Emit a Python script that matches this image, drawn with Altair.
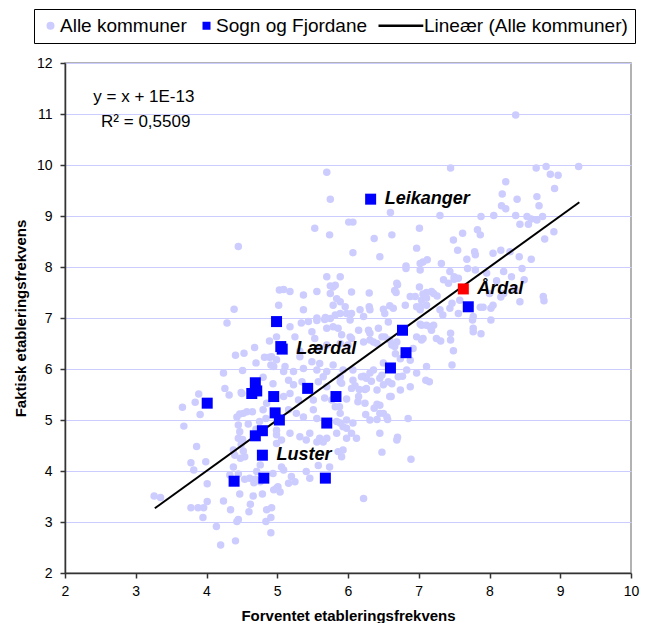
import altair as alt
import pandas as pd

SERIES = ["Alle kommuner", "Sogn og Fjordane", "Lineær (Alle kommuner)"]
COLORS = ["#ccccff", "#0000ff", "#000000"]
SHAPES = ["circle", "square", "M-9,-0.3H2.2V0.3H-9Z"]

# (forventet, faktisk) for all municipalities
alle_kommuner = [
    (4.45, 8.40), (4.39, 7.17), (4.29, 6.90), (4.68, 6.42), (4.41, 6.27), (4.53, 6.31), (4.89, 6.55),
    (4.99, 6.63), (4.82, 6.23), (4.89, 6.23), (4.70, 6.12), (4.91, 6.08), (4.95, 6.05), (4.51, 5.97),
    (4.24, 5.92), (4.80, 5.84), (4.26, 5.62), (4.32, 5.49), (4.49, 5.54), (3.89, 5.51), (4.94, 5.71),
    (5.02, 7.25), (5.03, 7.55),
    (3.84, 5.35), (3.66, 5.25), (3.91, 5.11), (3.68, 4.88), (3.86, 4.48), (3.78, 4.16), (3.82, 4.02),
    (3.99, 4.18), (4.01, 3.75), (3.26, 3.51), (3.35, 3.48), (4.01, 3.40), (3.78, 3.28), (3.88, 3.28),
    (3.96, 3.28), (3.95, 3.09), (4.14, 2.91), (4.20, 2.55), (4.41, 2.63), (4.24, 3.41), (4.34, 3.24),
    (4.43, 3.01), (4.45, 3.05), (4.47, 3.55), (4.60, 3.20), (4.62, 3.35), (4.66, 3.51), (4.79, 3.55),
    (4.84, 3.01), (4.91, 3.09), (4.85, 3.24), (4.92, 3.28), (4.91, 2.79), (4.95, 3.63), (4.99, 3.66),
    (4.33, 3.92), (4.45, 3.94), (4.54, 3.84), (4.61, 3.86), (4.69, 3.84), (4.38, 4.08), (4.40, 4.31),
    (4.54, 4.28), (4.48, 4.25), (4.38, 4.41), (4.52, 4.39), (4.49, 4.52), (4.45, 4.64), (4.51, 4.62),
    (4.47, 4.77), (4.45, 4.90), (4.59, 4.92), (4.75, 4.97), (4.70, 4.82), (4.43, 5.06), (4.47, 5.12),
    (4.52, 5.13), (4.57, 5.16), (4.65, 5.16), (4.80, 5.20), (4.85, 5.33), (4.84, 5.03), (4.76, 4.12),
    (4.71, 3.99), (4.67, 3.77), (4.50, 5.52), (4.99, 4.71), (4.99, 4.54), (4.76, 3.79),
    (5.56, 6.95), (5.67, 6.97), (5.79, 7.25), (5.89, 7.32), (5.32, 6.35), (5.70, 5.95), (5.79, 6.08),
    (5.93, 5.98),
    (5.70, 9.86), (5.75, 9.33), (6.60, 9.07), (5.53, 8.76), (5.74, 8.63), (6.01, 8.88), (6.07, 8.88),
    (6.37, 8.56), (6.62, 8.63), (7.01, 8.76), (6.97, 8.37), (6.07, 8.28), (6.45, 8.20), (6.82, 8.02),
    (6.82, 7.97), (7.02, 8.07), (7.06, 8.10), (7.12, 8.14), (7.02, 7.94), (5.70, 7.81), (5.89, 7.81),
    (5.75, 7.63), (5.82, 7.64), (5.09, 7.56), (6.05, 7.51), (6.30, 7.49), (6.70, 7.65), (6.68, 7.50),
    (7.01, 7.61), (7.11, 7.50), (6.88, 7.42), (6.95, 7.42), (5.84, 7.38),
    (5.82, 7.06), (5.56, 7.00), (5.68, 7.01), (6.05, 7.09), (6.17, 7.16),
    (8.37, 10.98), (7.45, 9.94), (8.66, 9.94), (8.80, 9.97), (8.86, 9.82), (8.97, 9.80), (9.26, 9.97),
    (8.23, 9.67), (8.18, 9.43), (8.39, 9.33), (8.67, 9.38), (8.92, 9.54), (8.17, 9.20), (8.23, 9.14),
    (8.70, 9.20), (7.30, 9.01), (7.88, 8.99), (8.06, 9.01), (8.37, 9.01), (8.53, 8.99), (8.59, 8.94),
    (8.75, 8.99), (8.43, 8.84), (8.55, 8.84), (8.67, 8.92), (7.83, 8.73), (7.87, 8.63), (7.62, 8.66),
    (7.49, 8.53), (7.55, 8.33), (8.91, 8.69), (8.78, 8.55), (8.05, 8.27), (8.16, 8.33), (8.29, 8.30),
    (8.42, 8.20), (8.59, 8.15), (7.80, 8.24), (7.79, 8.30), (7.68, 8.15), (7.32, 8.07), (7.44, 7.91),
    (7.50, 7.81), (7.56, 7.78), (7.69, 7.97), (7.80, 7.94), (7.96, 7.88), (8.20, 7.91), (8.31, 7.81),
    (8.46, 7.97), (8.49, 7.75), (8.10, 7.73), (8.77, 7.34), (8.05, 7.25), (7.87, 7.21), (7.91, 7.21),
    (7.35, 7.75), (7.42, 7.68), (7.50, 7.76), (7.18, 7.52), (7.26, 7.43), (7.06, 7.47), (6.69, 7.68),
    (6.66, 7.54), (6.59, 7.24), (6.50, 7.17), (6.30, 7.22), (5.96, 7.22), (5.79, 7.61), (7.02, 7.22),
    (7.11, 7.25), (5.89, 7.09), (7.30, 7.16), (7.44, 7.19), (7.56, 7.09), (7.77, 7.03),
    (8.36, 7.56), (8.20, 7.48), (8.00, 7.48), (8.76, 7.42),
    (7.21, 7.48), (7.04, 7.35), (7.02, 7.16), (7.47, 7.29), (7.58, 7.35), (8.02, 7.19), (8.16, 7.41),
    (8.43, 7.32), (7.34, 7.06), (7.16, 6.83), (7.21, 6.86), (7.04, 6.86), (7.76, 6.96), (8.02, 6.96),
    (7.77, 6.80), (7.77, 6.73), (7.88, 6.69), (7.45, 6.70), (7.45, 6.57), (7.25, 6.60), (7.31, 6.55),
    (7.06, 6.60), (7.49, 6.36), (7.47, 6.08), (7.10, 5.78), (7.15, 5.75),
    (6.22, 3.46), (6.89, 4.23), (6.48, 4.37), (6.70, 4.66), (6.45, 4.74), (6.85, 5.03), (6.12, 4.64),
    (6.05, 4.74), (5.98, 4.84), (5.93, 4.87), (5.89, 4.94), (5.84, 4.97), (5.93, 4.41), (5.86, 4.38),
    (6.31, 5.00), (6.41, 5.01), (6.50, 5.13), (6.56, 5.01), (6.25, 5.11), (6.37, 5.23), (6.41, 5.31),
    (6.61, 5.46), (6.15, 5.46), (6.14, 5.36), (5.98, 5.41), (5.89, 5.13), (5.88, 5.26), (5.82, 5.26),
    (5.77, 5.39), (6.10, 5.67), (6.24, 5.60), (6.26, 5.82), (6.33, 5.76), (6.22, 5.86), (6.45, 5.82),
    (6.48, 5.88), (6.36, 5.98), (6.50, 6.12), (6.62, 5.71), (6.77, 5.86), (6.07, 5.78), (6.16, 5.60),
    (5.89, 5.75), (5.89, 5.85),
    (5.98, 7.09), (6.03, 6.96), (6.05, 6.60), (6.22, 6.53), (6.31, 6.70), (6.36, 6.53), (6.43, 6.80),
    (6.52, 6.63), (6.57, 6.92), (6.62, 6.47), (6.69, 6.53), (6.67, 6.30), (6.74, 6.20), (6.88, 6.17),
    (6.92, 6.40), (7.02, 6.88), (7.18, 6.76),
    (5.18, 7.52), (5.37, 7.45), (5.56, 7.52), (5.75, 7.48), (7.11, 7.39), (5.37, 7.16), (6.22, 7.03),
    (6.31, 7.16), (6.52, 7.09), (6.64, 7.19), (6.81, 7.25), (6.97, 7.22), (5.34, 6.90), (5.44, 6.93),
    (5.75, 6.99), (5.86, 6.80), (5.91, 6.67), (5.79, 6.83), (5.70, 6.80), (5.18, 6.83), (5.25, 6.63),
    (5.49, 6.73), (5.53, 6.60), (5.60, 6.41), (5.70, 6.47), (5.89, 6.50), (6.00, 6.47), (6.03, 6.63),
    (6.15, 6.76), (6.29, 6.76), (6.31, 6.57), (6.41, 6.50), (6.48, 6.63), (6.59, 6.57), (6.66, 6.44),
    (6.97, 6.63), (7.11, 6.86), (7.04, 6.57), (4.92, 6.24), (4.99, 6.18), (5.11, 6.05), (5.32, 6.24),
    (5.49, 6.14), (5.60, 6.11), (5.56, 5.98), (5.37, 6.01), (5.23, 5.95), (5.09, 5.95), (6.07, 5.98),
    (6.19, 5.85), (6.31, 5.92), (6.57, 5.75), (6.71, 5.85), (6.83, 5.98), (6.97, 5.92), (7.11, 6.05),
    (5.16, 5.78), (5.23, 5.69), (5.35, 5.75), (5.58, 5.75), (5.65, 5.85), (5.70, 5.65), (5.91, 5.72),
    (6.05, 5.62), (6.26, 5.62), (6.41, 5.59), (6.50, 5.69), (6.59, 5.46), (6.74, 5.59), (6.88, 5.65),
    (5.09, 5.46), (5.18, 5.52), (5.30, 5.39), (5.51, 5.39), (5.67, 5.43), (6.24, 5.33), (6.45, 5.29),
    (5.16, 5.20), (5.27, 5.13), (5.37, 5.06), (5.51, 5.20), (5.56, 5.03), (5.98, 5.00), (6.07, 4.94),
    (6.45, 5.13), (6.55, 5.06), (4.99, 4.80), (5.18, 4.74), (5.32, 4.67), (5.46, 4.74), (5.60, 4.64),
    (5.70, 4.64), (5.84, 4.74), (5.98, 4.64), (5.91, 4.28),
    (5.06, 4.61), (5.41, 4.61), (5.56, 4.57), (5.65, 4.57), (6.69, 4.61), (5.74, 4.08), (5.58, 4.11),
    (5.46, 3.86), (5.41, 3.99), (5.25, 3.79), (5.20, 3.89), (5.16, 3.76), (5.09, 4.02), (5.06, 4.08),
    (4.94, 3.95), (5.01, 3.69), (5.04, 3.59),
]

# Sogn og Fjordane municipalities
sogn_og_fjordane = [
    (4.99, 6.93), (5.05, 6.44), (5.07, 6.39), (4.69, 5.73), (4.64, 5.52), (4.71, 5.57), (4.01, 5.33),
    (4.95, 5.46), (5.43, 5.62), (5.83, 5.46), (4.97, 5.14), (5.03, 5.00), (4.79, 4.79), (4.69, 4.69),
    (5.70, 4.94), (4.79, 4.31), (4.39, 3.80), (4.81, 3.86), (5.68, 3.86), (7.70, 7.22), (6.77, 6.76),
    (6.82, 6.32), (6.60, 6.02), (6.32, 9.33),
]

ardal = [(7.63, 7.57)]

label_names = ["Leikanger", "Årdal", "Lærdal", "Luster"]
label_x = [6.32, 7.63, 5.07, 4.79]
label_y = [9.33, 7.57, 6.39, 4.31]

trend_x = [3.27, 9.27]
trend_y = [v + 1e-13 for v in trend_x]

eq_text = ["y = x + 1E-13", "R² = 0,5509"]
eq_x = [2.40, 2.51]
eq_y = [11.33, 10.84]

FONT = "Liberation Sans"

df_all = pd.DataFrame(alle_kommuner, columns=["x", "y"])
df_all["serie"] = SERIES[0]
df_sf = pd.DataFrame(sogn_og_fjordane, columns=["x", "y"])
df_sf["serie"] = SERIES[1]
df_ardal = pd.DataFrame(ardal, columns=["x", "y"])
df_line = pd.DataFrame({"x": trend_x, "y": trend_y})
df_lab = pd.DataFrame({"x": label_x, "y": label_y, "t": label_names})
df_eq = pd.DataFrame({"x": eq_x, "y": eq_y, "t": eq_text})

xs = alt.Scale(domain=[2, 10], nice=False, zero=False)
ys = alt.Scale(domain=[2, 12], nice=False, zero=False)

axis_common = dict(
    labelFont=FONT, titleFont=FONT, labelFontSize=14, titleFontSize=15,
    titleFontWeight="bold", labelColor="black", titleColor="black",
    domainColor="#333333", domainWidth=1.5, tickColor="#333333", tickWidth=1.5,
    tickSize=5, labelFlush=False,
)
xaxis = alt.Axis(title="Forventet etableringsfrekvens", values=list(range(2, 11)), format="d",
                 grid=False, labelPadding=6, titlePadding=10, **axis_common)
yaxis = alt.Axis(title="Faktisk etableringsfrekvens", values=list(range(2, 13)), format="d",
                 grid=True, gridColor="#ccccff", gridWidth=1, labelPadding=8, titlePadding=8,
                 **axis_common)

X = alt.X("x:Q", scale=xs, axis=xaxis)
Y = alt.Y("y:Q", scale=ys, axis=yaxis)

leg = alt.Legend(
    title=None, orient="none", legendX=-31, legendY=-54, direction="horizontal",
    labelFont=FONT, labelFontSize=19, labelColor="black", symbolSize=64, labelOffset=0,
    columnPadding=10, padding=7, strokeColor="black", fillColor="white",
    symbolOpacity=1, symbolStrokeWidth=0, labelLimit=400,
)
color = alt.Color("serie:N", scale=alt.Scale(domain=SERIES, range=COLORS), legend=leg)
shape = alt.Shape("serie:N", scale=alt.Scale(domain=SERIES, range=SHAPES), legend=leg)

pts_all = alt.Chart(df_all).mark_point(filled=True, size=56, opacity=1).encode(
    x=X, y=Y, color=color, shape=shape)
pts_sf = alt.Chart(df_sf).mark_point(filled=True, size=121, opacity=1).encode(
    x=X, y=Y, color=color, shape=shape)
line = alt.Chart(df_line).mark_line(color="black", strokeWidth=2).encode(x=X, y=Y)
red = alt.Chart(df_ardal).mark_point(filled=True, shape="square", size=121, opacity=1,
                                     color="#ff0000").encode(x=X, y=Y)
labels = alt.Chart(df_lab).mark_text(
    align="left", baseline="middle", dx=14, font=FONT, fontSize=18, fontWeight="bold",
    fontStyle="italic", color="black").encode(x=X, y=Y, text="t:N")
eq = alt.Chart(df_eq).mark_text(
    align="left", baseline="middle", font=FONT, fontSize=17, color="black").encode(
    x=X, y=Y, text="t:N")

chart = alt.layer(pts_all, line, pts_sf, red, labels, eq).properties(
    width=566, height=510,
    padding={"left": 57, "top": 55, "right": 13, "bottom": 50},
    autosize=alt.AutoSizeParams(type="none"),
    background="white",
).configure_view(stroke="#999999", strokeWidth=1.5)

chart.save("out.html", embed_options={"renderer": "svg", "actions": False})
